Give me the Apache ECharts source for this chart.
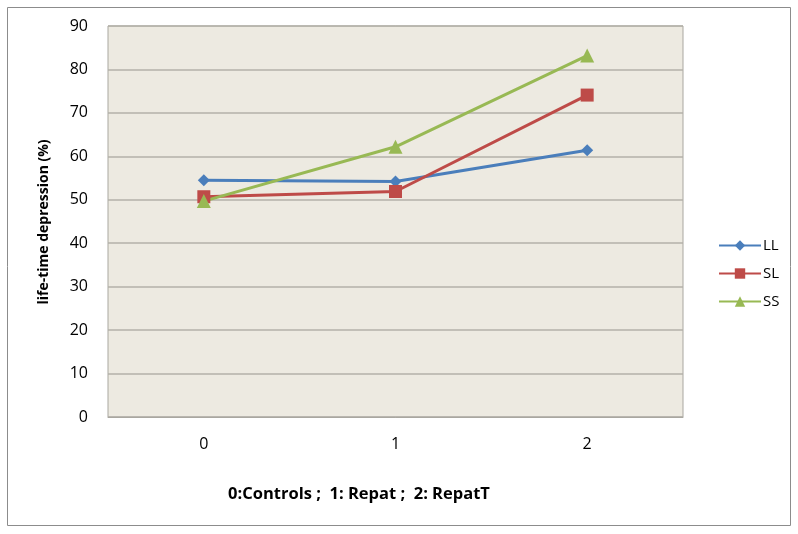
<!DOCTYPE html>
<html><head><meta charset="utf-8">
<script src="https://cdn.jsdelivr.net/npm/echarts@6/dist/echarts.min.js"></script>
<style>html,body{margin:0;padding:0;background:#fff}#c{width:798px;height:534px}</style>
</head><body><div id="c"></div>
<script>
const categories = ['0', '1', '2'];
const LL = [54.5, 54.2, 61.4];
const SL = [50.7, 51.9, 74.1];
const SS = [49.7, 62.2, 83.2];
const seriesNames = ['LL', 'SL', 'SS'];
const yTicks = { min: 0, max: 90, interval: 10 };
const xNote = '0:Controls ;  1: Repat ;  2: RepatT';
const yTitle = 'life-time depression (%)';

const font = '"Open Sans", Lato, sans-serif';
const chart = echarts.init(document.getElementById('c'));
const colors = ['#4A7EBB', '#BE4B48', '#98B954'];
const symbols = ['diamond', 'rect', 'triangle'];
const sizes = [12, 13, 14];
const dataSets = [LL, SL, SS];
chart.setOption({
  animation: false,
  color: colors,
  grid: { left: 108, right: 115, top: 26, bottom: 117, show: true, backgroundColor: '#EDEAE1', borderColor: '#A9A7A0', borderWidth: 1 },
  graphic: [
    { type: 'rect', shape: { x: 7.5, y: 7.5, width: 783, height: 518 }, style: { fill: 'none', stroke: '#8c8c8c', lineWidth: 1 } },
    { type: 'text', x: 359, y: 494, style: { text: xNote, font: 'bold 16.5px ' + font, fill: '#000', align: 'center', verticalAlign: 'middle' } },
    { type: 'text', x: 44, y: 222, rotation: Math.PI / 2, style: { text: yTitle, font: 'bold 14px ' + font, fill: '#000', align: 'center', verticalAlign: 'middle' } }
  ],
  legend: {
    orient: 'vertical', left: 713, top: 233, itemGap: 13, itemWidth: 42, itemHeight: 13,
    textStyle: { fontFamily: font, fontSize: 15, color: '#000', padding: [0, 0, 0, -3] },
    data: seriesNames
  },
  xAxis: {
    type: 'category', data: categories, boundaryGap: true,
    axisLine: { show: true, lineStyle: { color: '#A9A7A0' } },
    axisTick: { show: false },
    axisLabel: { fontFamily: font, fontSize: 16, color: '#000', margin: 19 }
  },
  yAxis: {
    type: 'value', min: yTicks.min, max: yTicks.max, interval: yTicks.interval,
    axisLine: { show: false }, axisTick: { show: false },
    axisLabel: { fontFamily: font, fontSize: 16, color: '#000', margin: 20 },
    splitLine: { lineStyle: { color: '#B3B0A8', width: 1.5 } }
  },
  series: dataSets.map((d, i) => ({
    name: seriesNames[i], type: 'line', data: d,
    symbol: symbols[i], symbolSize: sizes[i], showSymbol: true,
    lineStyle: { width: 3, color: colors[i] },
    itemStyle: { color: colors[i] }
  }))
});
</script></body></html>
